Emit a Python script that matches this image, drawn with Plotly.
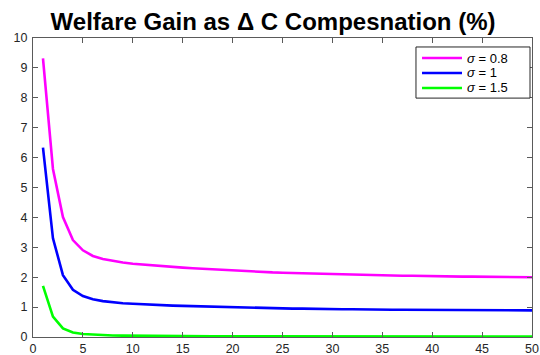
import plotly.graph_objects as go

# Horizon (periods) and welfare gains for each elasticity
periods = list(range(1, 51))

gain_sigma_08 = [
    9.32, 5.62, 4.01, 3.24, 2.90, 2.71, 2.61, 2.54, 2.49, 2.45,
    2.42, 2.39, 2.37, 2.34, 2.32, 2.30, 2.28, 2.26, 2.24, 2.22,
    2.20, 2.19, 2.17, 2.16, 2.15, 2.14, 2.13, 2.12, 2.11, 2.10,
    2.09, 2.08, 2.08, 2.07, 2.06, 2.06, 2.05, 2.05, 2.04, 2.04,
    2.03, 2.03, 2.02, 2.02, 2.02, 2.01, 2.01, 2.01, 2.00, 2.00,
]

gain_sigma_1 = [
    6.33, 3.30, 2.07, 1.58, 1.37, 1.26, 1.20, 1.16, 1.13, 1.11,
    1.09, 1.08, 1.06, 1.05, 1.04, 1.03, 1.02, 1.01, 1.00, 0.99,
    0.98, 0.97, 0.97, 0.96, 0.96, 0.95, 0.95, 0.94, 0.94, 0.93,
    0.93, 0.93, 0.92, 0.92, 0.92, 0.91, 0.91, 0.91, 0.91, 0.90,
    0.90, 0.90, 0.90, 0.90, 0.89, 0.89, 0.89, 0.89, 0.89, 0.89,
]

gain_sigma_15 = [
    1.71, 0.68, 0.29, 0.15, 0.10, 0.08, 0.06, 0.05, 0.045, 0.040,
    0.037, 0.034, 0.032, 0.030, 0.028, 0.027, 0.026, 0.025, 0.024, 0.023,
    0.022, 0.021, 0.020, 0.020, 0.019, 0.019, 0.018, 0.018, 0.017, 0.017,
    0.016, 0.016, 0.016, 0.015, 0.015, 0.015, 0.014, 0.014, 0.014, 0.013,
    0.013, 0.013, 0.013, 0.012, 0.012, 0.012, 0.012, 0.011, 0.011, 0.011,
]

series_names = ["<i>σ</i> = 0.8", "<i>σ</i> = 1", "<i>σ</i> = 1.5"]
series_values = [gain_sigma_08, gain_sigma_1, gain_sigma_15]
series_colors = ["#ff00ff", "#0000ff", "#00ff00"]

x_ticks = list(range(0, 51, 5))
y_ticks = list(range(0, 11))

FONT = "Liberation Sans, Arial, sans-serif"

fig = go.Figure()
for name, values, color in zip(series_names, series_values, series_colors):
    fig.add_trace(go.Scatter(
        x=periods, y=values, mode="lines", name=name, showlegend=False,
        line=dict(color=color, width=2.6),
    ))

# Compact boxed legend in the upper-right corner of the axes
legend_box = dict(x0=0.7675, x1=0.996, y0=0.799, y1=0.970)
row_y = [0.933, 0.883, 0.833]
fig.add_shape(type="rect", xref="paper", yref="paper", **legend_box,
              line=dict(color="#262626", width=1), fillcolor="white", layer="above")
for name, color, ry in zip(series_names, series_colors, row_y):
    fig.add_shape(type="line", xref="paper", yref="paper",
                  x0=0.7796, x1=0.8597, y0=ry, y1=ry,
                  line=dict(color=color, width=2.6), layer="above")
    fig.add_annotation(text=name, xref="paper", yref="paper", x=0.8657, y=ry,
                       xanchor="left", yanchor="middle", showarrow=False,
                       font=dict(family=FONT, size=13, color="black"))

axis_style = dict(
    showline=True, linecolor="#5a5a5a", linewidth=1.2, mirror="ticks",
    ticks="inside", ticklen=5, tickcolor="#5a5a5a", tickwidth=1,
    showgrid=False, zeroline=False, automargin=False,
    tickfont=dict(family=FONT, size=12.5, color="#262626"),
)

fig.update_layout(
    width=540, height=355,
    margin=dict(l=33, r=8, t=38, b=18),
    paper_bgcolor="white", plot_bgcolor="white",
    title=dict(
        text="<b>Welfare Gain as Δ C Compesnation (%)</b>",
        x=0.5056, xanchor="center", y=0.94, yanchor="middle",
        font=dict(family=FONT, size=24, color="black"),
    ),
    xaxis=dict(range=[0, 50], tickvals=x_ticks, ticklabelstandoff=0, **axis_style),
    yaxis=dict(range=[0, 10], tickvals=y_ticks, ticklabelstandoff=2, **axis_style),
    showlegend=False,
)

fig.write_html("out.html")
